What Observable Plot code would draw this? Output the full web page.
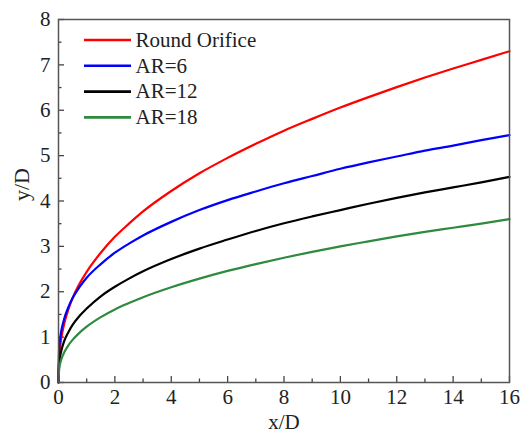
<!DOCTYPE html>
<html>
<head>
<meta charset="utf-8">
<script src="https://cdn.jsdelivr.net/npm/d3@7"></script>
<script src="https://cdn.jsdelivr.net/npm/@observablehq/plot@0.6"></script>
<style>
  html, body { margin: 0; padding: 0; background: #fff; }
  #chart svg, #chart svg text { font-family: "Liberation Serif", "Times New Roman", serif !important; }
</style>
</head>
<body>
<div id="chart"></div>
<script>
// ---- data ----
const seriesNames = ["Round Orifice", "AR=6", "AR=12", "AR=18"];
const seriesColors = ["#ff0000", "#0000ff", "#000000", "#2f8a3f"];
const xValues = [0, 0.02, 0.05, 0.1, 0.2, 0.35, 0.5, 0.75, 1, 1.5, 2, 2.5, 3, 4, 5, 6, 7, 8, 9, 10, 11, 12, 13, 14, 15, 16];
const roundOrifice = [0, 0.52, 0.75, 0.98, 1.29, 1.61, 1.86, 2.18, 2.44, 2.86, 3.21, 3.50, 3.77, 4.22, 4.61, 4.95, 5.26, 5.55, 5.81, 6.06, 6.29, 6.51, 6.72, 6.92, 7.11, 7.30];
const ar6 = [0, 0.72, 0.93, 1.14, 1.40, 1.66, 1.86, 2.11, 2.31, 2.61, 2.86, 3.06, 3.24, 3.54, 3.80, 4.02, 4.21, 4.39, 4.55, 4.71, 4.85, 4.98, 5.11, 5.22, 5.34, 5.45];
const ar12 = [0, 0.42, 0.55, 0.70, 0.91, 1.11, 1.27, 1.47, 1.63, 1.90, 2.11, 2.29, 2.45, 2.72, 2.95, 3.15, 3.34, 3.51, 3.66, 3.80, 3.94, 4.07, 4.19, 4.30, 4.41, 4.53];
const ar18 = [0, 0.27, 0.39, 0.51, 0.66, 0.82, 0.94, 1.10, 1.23, 1.44, 1.61, 1.75, 1.88, 2.10, 2.29, 2.46, 2.61, 2.75, 2.88, 3.00, 3.11, 3.22, 3.32, 3.41, 3.50, 3.60];
const xMajorTicks = [0, 2, 4, 6, 8, 10, 12, 14, 16];
const xMinorTicks = [1, 3, 5, 7, 9, 11, 13, 15];
const yMajorTicks = [0, 1, 2, 3, 4, 5, 6, 7, 8];
const yMinorTicks = [0.5, 1.5, 2.5, 3.5, 4.5, 5.5, 6.5, 7.5];
const xLabel = "x/D";
const yLabel = "y/D";

// ---- build table ----
const seriesY = [roundOrifice, ar6, ar12, ar18];
const table = [];
seriesNames.forEach((name, s) => {
  xValues.forEach((x, i) => table.push({series: name, x, y: seriesY[s][i]}));
});

// ---- layout ----
const W = 523, H = 437;
const mL = 58, mR = 14, mT = 19, mB = 55;
const plotW = W - mL - mR, plotH = H - mT - mB;
const xDomain = [0, 16], yDomain = [0, 8];
const majorLen = 6, minorLen = 3.5;
const serif = "Liberation Serif";

// legend placed in data coordinates (derived from layout, not data)
const pxToX = px => xDomain[0] + (px - mL) / plotW * (xDomain[1] - xDomain[0]);
const pxToY = py => yDomain[1] - (py - mT) / plotH * (yDomain[1] - yDomain[0]);
const legend = seriesNames.map((name, i) => ({
  name,
  color: seriesColors[i],
  x1: pxToX(84), x2: pxToX(131), xt: pxToX(135),
  y: pxToY(39.5 + i * 25.8)
}));

const tickStroke = "#444";

const chart = Plot.plot({
  width: W, height: H,
  marginLeft: mL, marginRight: mR, marginTop: mT, marginBottom: mB,
  style: {fontFamily: serif, fontSize: "21px", background: "#fff", color: "#222"},
  x: {domain: xDomain},
  y: {domain: yDomain},
  color: {domain: seriesNames, range: seriesColors},
  marks: [
    // inward ticks
    Plot.ruleX(xMajorTicks, {x: d => d, insetTop: plotH - majorLen, stroke: tickStroke, strokeWidth: 1.3}),
    Plot.ruleX(xMinorTicks, {x: d => d, insetTop: plotH - minorLen, stroke: tickStroke, strokeWidth: 1.3}),
    Plot.ruleY(yMajorTicks, {y: d => d, insetRight: plotW - majorLen, stroke: tickStroke, strokeWidth: 1.3}),
    Plot.ruleY(yMinorTicks, {y: d => d, insetRight: plotW - minorLen, stroke: tickStroke, strokeWidth: 1.3}),
    // tick labels
    Plot.axisX({ticks: xMajorTicks, tickSize: 0, tickPadding: 7, tickFormat: d => String(d), label: null, fill: "#222", fontFamily: serif, fontSize: 21}),
    Plot.axisY({ticks: yMajorTicks, tickSize: 0, tickPadding: 8, tickFormat: d => String(d), label: null, fill: "#222", fontFamily: serif, fontSize: 21}),
    // curves
    Plot.line(table, {x: "x", y: "y", z: "series", stroke: "series", strokeWidth: 2.2, curve: "monotone-x"}),
    // frame
    Plot.frame({stroke: "#555", strokeWidth: 1.5}),
    // axis titles
    Plot.text([xLabel], {frameAnchor: "bottom", dy: 46, text: d => d, fontSize: 21, fontFamily: serif, fill: "#222"}),
    Plot.text([yLabel], {frameAnchor: "left", dx: -37, rotate: -90, text: d => d, fontSize: 22, fontFamily: serif, fill: "#222"}),
    // legend
    Plot.ruleY(legend, {y: "y", x1: "x1", x2: "x2", stroke: "color", strokeWidth: 2.6}),
    Plot.text(legend, {x: "xt", y: "y", text: "name", textAnchor: "start", fontSize: 21, fontFamily: serif, fill: "#222"})
  ]
});
document.getElementById("chart").appendChild(chart);
</script>
</body>
</html>
